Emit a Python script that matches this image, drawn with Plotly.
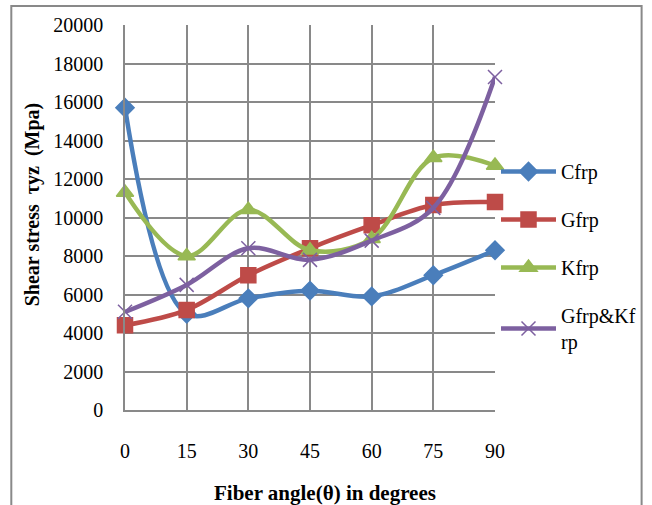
import plotly.graph_objects as go

angles = [0, 15, 30, 45, 60, 75, 90]
cfrp = [15700, 5000, 5800, 6200, 5900, 7000, 8300]
gfrp = [4400, 5200, 7000, 8400, 9600, 10650, 10800]
kfrp = [11300, 8000, 10400, 8300, 8900, 13100, 12700]
gkfrp = [5100, 6500, 8400, 7800, 8800, 10500, 17300]
y_ticks = list(range(0, 20001, 2000))

series = [
    ("Cfrp", cfrp, "#4A7EBB", "diamond", 14),
    ("Gfrp", gfrp, "#BE4B48", "square", 15),
    ("Kfrp", kfrp, "#98B954", "triangle-up", 15),
    ("Gfrp&Kf<br>rp", gkfrp, "#7D60A0", "x-thin-open", 14),
]

FONT = "Liberation Serif, Times New Roman, serif"

fig = go.Figure()
for name, vals, col, sym, sz in series:
    fig.add_trace(go.Scatter(
        x=angles, y=vals, name=name, mode="lines+markers",
        line=dict(color=col, width=4.5, shape="spline", smoothing=1.0),
        marker=dict(symbol=sym, size=sz, color=col, line=dict(color=col, width=1.5)),
        cliponaxis=False, legendgroup=name,
    ))

W0, H0 = 371, 385  # plot area size in px
def px(x):
    return (x - 125) / W0
def py(y):
    return (410 - y) / H0

fig.update_layout(
    width=652, height=505,
    margin=dict(l=125, r=156, t=25, b=95),
    paper_bgcolor="white", plot_bgcolor="white",
    font=dict(family=FONT, size=20, color="black"),
    showlegend=True,
    legend=dict(x=1.0, y=py(152), xanchor="left", yanchor="top",
                font=dict(family=FONT, size=20), tracegroupgap=19,
                itemwidth=55, bgcolor="rgba(0,0,0,0)"),
    xaxis=dict(range=[0, 90], tickvals=angles, ticktext=[str(a) for a in angles],
               showgrid=True, gridcolor="#898989", gridwidth=1.5,
               showline=True, linecolor="#898989", linewidth=1.5,
               zeroline=False, ticks="", ticklabelstandoff=22,
               tickfont=dict(size=20)),
    yaxis=dict(range=[0, 20000], tickvals=y_ticks, ticktext=[str(v) for v in y_ticks],
               showgrid=True, gridcolor="#898989", gridwidth=1.5,
               showline=True, linecolor="#898989", linewidth=1.5,
               zeroline=False, ticks="", ticklabelstandoff=16,
               tickfont=dict(size=20)),
    annotations=[
        dict(text="<b>Fiber angle(θ) in degrees</b>", xref="paper", yref="paper",
             x=px(326), y=py(493), xanchor="center", yanchor="middle",
             showarrow=False, font=dict(size=21)),
        dict(text="<b>Shear stress  τyz  (Mpa)</b>", xref="paper", yref="paper",
             x=px(32), y=py(205), xanchor="center", yanchor="middle",
             textangle=-90, showarrow=False, font=dict(size=20)),
    ],
    shapes=[dict(type="rect", xref="paper", yref="paper",
                 x0=px(11), x1=px(643), y0=py(520), y1=py(6),
                 line=dict(color="#898989", width=2), layer="below")],
)

fig.write_html("out.html")
